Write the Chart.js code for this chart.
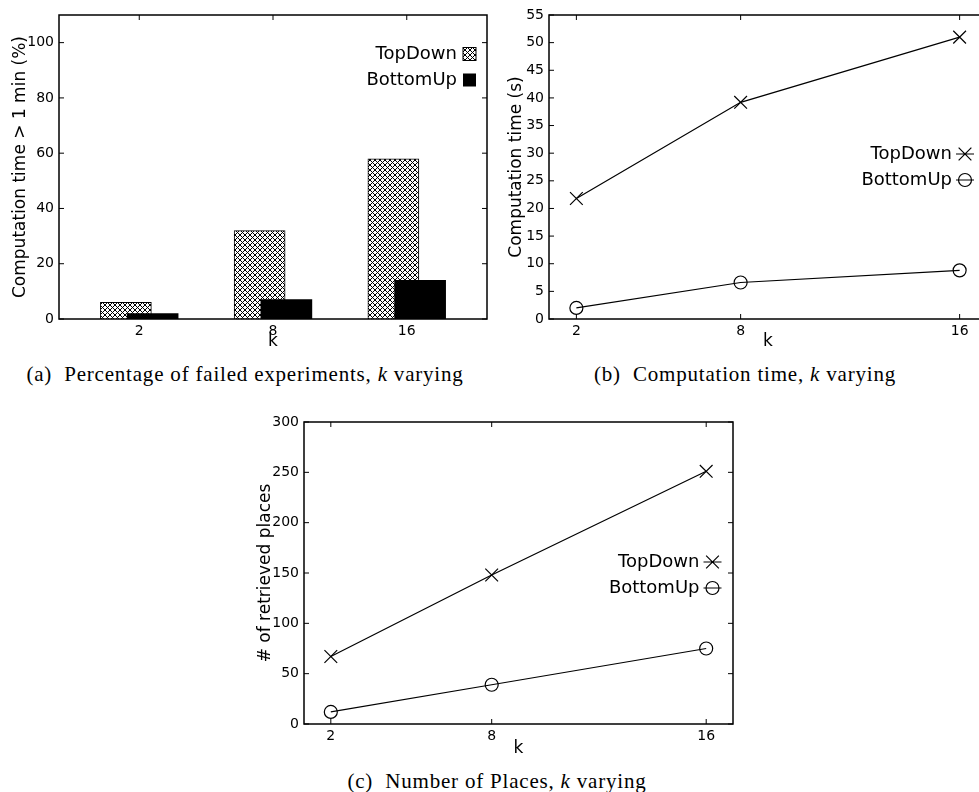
<!DOCTYPE html>
<html>
<head>
<meta charset="utf-8">
<title>TopDown vs BottomUp, k varying</title>
<script src="https://cdn.jsdelivr.net/npm/chart.js@4.4.1/dist/chart.umd.min.js"></script>
<style>
  html, body { margin: 0; padding: 0; background: #fff; overflow: hidden; }
  body { width: 979px; height: 792px; position: relative; }
  canvas { position: absolute; }
  .cap { position: absolute; width: 600px; text-align: center; font: 21px "Liberation Serif", serif;
         line-height: 24px; color: #000; letter-spacing: 0.8px; white-space: nowrap; }
</style>
</head>
<body>
<canvas id="fail" width="490" height="352" style="left:0;top:0"></canvas>
<canvas id="time" width="500" height="352" style="left:490px;top:0"></canvas>
<canvas id="places" width="491" height="352" style="left:245px;top:407px"></canvas>
<div class="cap" style="left:-55px;top:362px">(a)&nbsp; Percentage of failed experiments, <i>k</i> varying</div>
<div class="cap" style="left:445px;top:362px">(b)&nbsp; Computation time, <i>k</i> varying</div>
<div class="cap" style="left:197px;top:769px">(c)&nbsp; Number of Places, <i>k</i> varying</div>
<script>
// k values on the x axis
const kLabels = ['2', '8', '16'];
const kValues = [2, 8, 16];

// (a) failed experiments (%)
const failTopDown = [6, 32, 58];
const failBottomUp = [2, 7, 14];
const failTicks = [0, 20, 40, 60, 80, 100];

// (b) computation time (s)
const timeTopDown = [21.8, 39.2, 51.0];
const timeBottomUp = [2.0, 6.6, 8.8];
const timeTicks = [0, 5, 10, 15, 20, 25, 30, 35, 40, 45, 50, 55];

// (c) retrieved places
const placesTopDown = [67, 148, 251];
const placesBottomUp = [12, 39, 75];
const placesTicks = [0, 50, 100, 150, 200, 250, 300];

Chart.defaults.font.family = '"DejaVu Sans", sans-serif';
Chart.defaults.color = '#000';
Chart.defaults.animation = false;

// gnuplot-like box with inward ticks on all four sides
const framePlugin = {
  id: 'frame',
  afterDatasetsDraw(chart) {
    const { ctx, chartArea: a } = chart;
    const x = chart.scales.x, y = chart.scales.y;
    ctx.save();
    ctx.strokeStyle = '#000';
    ctx.lineWidth = 1;
    ctx.beginPath();
    x.ticks.forEach(t => {
      const px = x.getPixelForValue(t.value);
      ctx.moveTo(px, a.bottom); ctx.lineTo(px, a.bottom - 5);
      ctx.moveTo(px, a.top); ctx.lineTo(px, a.top + 5);
    });
    y.ticks.forEach(t => {
      const py = y.getPixelForValue(t.value);
      ctx.moveTo(a.left, py); ctx.lineTo(a.left + 5, py);
      ctx.moveTo(a.right, py); ctx.lineTo(a.right - 5, py);
    });
    ctx.stroke();
    ctx.lineWidth = 1.5;
    ctx.strokeRect(a.left, a.top, a.right - a.left, a.bottom - a.top);
    ctx.restore();
  }
};

// key: label text on the left, sample on the right
const keyPlugin = {
  id: 'key',
  afterDraw(chart, args, opts) {
    const { ctx, chartArea: a } = chart;
    ctx.save();
    ctx.font = '18px "DejaVu Sans"';
    ctx.textAlign = 'right';
    ctx.textBaseline = 'middle';
    chart.data.datasets.forEach((ds, i) => {
      const cx = a.right - opts.right;
      const cy = a.top + opts.top + i * opts.gap;
      ctx.fillStyle = '#000';
      ctx.fillText(ds.label, cx - opts.textGap, cy);
      ctx.strokeStyle = '#000';
      if (chart.config.type === 'bar') {
        ctx.fillStyle = ds.backgroundColor;
        ctx.fillRect(cx - 6.5, cy - 6.5, 13, 13);
        if (ds.borderWidth) { ctx.lineWidth = 1; ctx.strokeRect(cx - 6.5, cy - 6.5, 13, 13); }
      } else {
        ctx.lineWidth = 1.2;
        ctx.beginPath();
        ctx.moveTo(cx - 9, cy); ctx.lineTo(cx + 9, cy);
        if (ds.pointStyle === 'crossRot') {
          const d = ds.pointRadius * Math.SQRT1_2;
          ctx.moveTo(cx - d, cy - d); ctx.lineTo(cx + d, cy + d);
          ctx.moveTo(cx + d, cy - d); ctx.lineTo(cx - d, cy + d);
        } else {
          ctx.moveTo(cx + ds.pointRadius, cy);
          ctx.arc(cx, cy, ds.pointRadius, 0, Math.PI * 2);
        }
        ctx.stroke();
      }
    });
    ctx.restore();
  }
};

function crossHatch(ctx) {
  const c = document.createElement('canvas');
  c.width = c.height = 5;
  const g = c.getContext('2d');
  g.fillStyle = '#fff';
  g.fillRect(0, 0, 5, 5);
  g.fillStyle = '#000';
  for (let i = 0; i < 5; i++) {
    g.fillRect(i, i, 1, 1);
    g.fillRect(4 - i, i, 1, 1);
  }
  return ctx.createPattern(c, 'repeat');
}

function yAxis(max, ticks, title, titlePad) {
  return {
    min: 0, max: max,
    afterBuildTicks: s => { s.ticks = ticks.map(v => ({ value: v })); },
    ticks: { font: { size: 14 }, padding: 5 },
    grid: { display: false, drawTicks: false },
    border: { display: false },
    title: { display: true, text: title, font: { size: 17 }, padding: { top: titlePad, bottom: 0 } },
    afterFit: s => { s.width = 59; }
  };
}

function kAxis(min, max, values, height) {
  return {
    type: 'linear', min: min, max: max, offset: false,
    afterBuildTicks: s => { s.ticks = values.map(v => ({ value: v })); },
    ticks: {
      font: { size: 14 }, padding: 4, maxRotation: 0, autoSkip: false,
      callback: v => kLabels[values.indexOf(v)]
    },
    grid: { display: false, drawTicks: false },
    border: { display: false },
    title: { display: true, text: 'k', font: { size: 17 }, padding: 0 },
    afterFit: s => { s.height = height; s.paddingLeft = 0; s.paddingRight = 0; }
  };
}

const layout = { autoPadding: false, padding: { top: 15, right: 3, left: 0, bottom: 0 } };

// (a) bars: TopDown and BottomUp overlap a little, so each sits on its own hidden shifted axis
const failCtx = document.getElementById('fail').getContext('2d');
new Chart(failCtx, {
  type: 'bar',
  data: {
    datasets: [
      {
        label: 'TopDown',
        data: failTopDown.map((v, i) => ({ x: i, y: v })),
        xAxisID: 'xTop',
        grouped: false,
        backgroundColor: crossHatch(failCtx),
        borderColor: '#000',
        borderWidth: 1,
        barThickness: 51,
        order: 1
      },
      {
        label: 'BottomUp',
        data: failBottomUp.map((v, i) => ({ x: i, y: v })),
        xAxisID: 'xBottom',
        grouped: false,
        backgroundColor: '#000',
        borderWidth: 0,
        barThickness: 51,
        order: 0
      }
    ]
  },
  options: {
    responsive: false,
    layout: layout,
    plugins: {
      legend: { display: false },
      tooltip: { enabled: false },
      key: { right: 17.5, top: 39, gap: 26, textGap: 12.5 }
    },
    scales: {
      x: kAxis(-0.6, 2.6, [0, 1, 2], 33),
      xTop: { type: 'linear', display: false, offset: false, min: -0.5, max: 2.7 },
      xBottom: { type: 'linear', display: false, offset: false, min: -0.7, max: 2.5 },
      y: yAxis(110, failTicks, 'Computation time > 1 min (%)', 10)
    }
  },
  plugins: [framePlugin, keyPlugin]
});

function lineSet(label, vals, style, radius) {
  return {
    label: label,
    data: kValues.map((k, i) => ({ x: k, y: vals[i] })),
    borderColor: '#000',
    borderWidth: 1.2,
    tension: 0,
    fill: false,
    pointStyle: style,
    pointRadius: radius,
    pointBorderWidth: 1.2,
    pointBorderColor: '#000',
    pointBackgroundColor: 'rgba(0,0,0,0)'
  };
}

// (b) computation time
new Chart(document.getElementById('time'), {
  type: 'line',
  data: {
    datasets: [
      lineSet('TopDown', timeTopDown, 'crossRot', 9),
      lineSet('BottomUp', timeBottomUp, 'circle', 6.5)
    ]
  },
  options: {
    responsive: false,
    layout: layout,
    plugins: {
      legend: { display: false },
      tooltip: { enabled: false },
      key: { right: 22, top: 139, gap: 26, textGap: 13 }
    },
    scales: {
      x: kAxis(1, 17, kValues, 33),
      y: yAxis(55, timeTicks, 'Computation time (s)', 16)
    }
  },
  plugins: [framePlugin, keyPlugin]
});

// (c) number of places
new Chart(document.getElementById('places'), {
  type: 'line',
  data: {
    datasets: [
      lineSet('TopDown', placesTopDown, 'crossRot', 9),
      lineSet('BottomUp', placesBottomUp, 'circle', 6.5)
    ]
  },
  options: {
    responsive: false,
    layout: layout,
    plugins: {
      legend: { display: false },
      tooltip: { enabled: false },
      key: { right: 20.5, top: 140, gap: 26, textGap: 13 }
    },
    scales: {
      x: kAxis(1, 17, kValues, 35),
      y: yAxis(300, placesTicks, '# of retrieved places', 10)
    }
  },
  plugins: [framePlugin, keyPlugin]
});
</script>
</body>
</html>
